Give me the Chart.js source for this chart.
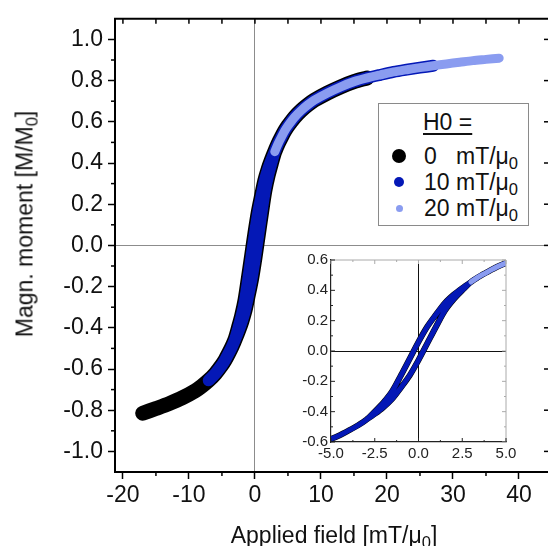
<!DOCTYPE html>
<html>
<head>
<meta charset="utf-8">
<script src="https://cdn.jsdelivr.net/npm/chart.js@4.4.0/dist/chart.umd.min.js"></script>
<style>
html,body{margin:0;padding:0;background:#fff;overflow:hidden;width:548px;height:546px;}
#wrap{position:relative;width:548px;height:546px;overflow:hidden;font-family:"Liberation Sans",Arial,sans-serif;color:#111;}
#main{position:absolute;left:0;top:0;}
#inset{position:absolute;left:280px;top:245px;}
.ttl{position:absolute;white-space:nowrap;font-size:23px;line-height:1;}
sub{font-size:0.72em;vertical-align:-0.32em;line-height:0;}
#legendBox{position:absolute;left:378px;top:103px;width:151px;height:123px;border:1.5px solid #8a8a8a;box-sizing:border-box;background:#fff;}
.lg{position:absolute;white-space:nowrap;font-size:23px;line-height:1;}
.mk{position:absolute;border-radius:50%;}
</style>
</head>
<body>
<div id="wrap">
  <canvas id="main" width="560" height="546"></canvas>
  <canvas id="inset" width="245" height="230"></canvas>
  <div class="ttl" id="xTitle" style="left:334px;top:535px;transform:translate(-50%,-50%);">Applied field [mT/μ<sub>0</sub>]</div>
  <div class="ttl" id="yTitle" style="left:25px;top:224px;transform:translate(-50%,-50%) rotate(-90deg);">Magn. moment [M/M<sub>0</sub>]</div>
  <div id="legendBox"></div>
</div>
<script>
// ---- data ----
const fieldValues   = [-17,-15,-13,-11,-9,-8,-7,-6,-5,-4.5,-4,-3.5,-3,-2.5,-2,-1.5,-1,-0.5,0,0.5,1,1.5,2,2.5,3,3.5,4,4.5,5,6,7,8,9,11,13,15,17,19,21,23,25,27,29,31,33,35,37];
const momentRising  = [-0.815,-0.792,-0.768,-0.74,-0.705,-0.682,-0.655,-0.622,-0.58,-0.555,-0.525,-0.493,-0.455,-0.415,-0.37,-0.315,-0.24,-0.16,-0.06,0.05,0.16,0.265,0.34,0.40,0.455,0.493,0.525,0.555,0.58,0.622,0.655,0.682,0.705,0.74,0.77,0.795,0.813,0.828,0.842,0.853,0.863,0.872,0.881,0.889,0.897,0.903,0.909];
const momentFalling = [-0.815,-0.792,-0.768,-0.74,-0.705,-0.682,-0.655,-0.622,-0.58,-0.555,-0.525,-0.493,-0.455,-0.40,-0.34,-0.265,-0.16,-0.05,0.06,0.16,0.24,0.315,0.37,0.415,0.455,0.493,0.525,0.555,0.58,0.622,0.655,0.682,0.705,0.74,0.77,0.795,0.813,0.828,0.842,0.853,0.863,0.872,0.881,0.889,0.897,0.903,0.909];

const seriesH0     = ['0', '10', '20'];
const sweepStart   = [-17, -7, 3];
const sweepEnd     = [17, 27, 37];
const seriesColors = ['#000000', '#0418b6', '#8a9cf0'];

const mainXTicks = [-20,-10,0,10,20,30,40];
const mainXMinor = [-15,-5,5,15,25,35];
const mainYTicks = [-1.0,-0.8,-0.6,-0.4,-0.2,0,0.2,0.4,0.6,0.8,1.0];
const mainYMinor = [-0.9,-0.7,-0.5,-0.3,-0.1,0.1,0.3,0.5,0.7,0.9];
const insetXTicks = [-5,-2.5,0,2.5,5];
const insetXMinor = [-3.75,-1.25,1.25,3.75];
const insetYTicks = [-0.6,-0.4,-0.2,0,0.2,0.4,0.6];
const insetYMinor = [-0.5,-0.3,-0.1,0.1,0.3,0.5];

// ---- styles ----
const FONT = '"Liberation Sans", Arial, sans-serif';
const mainWidths  = [15, 12, 9];
const insetWidths = [6, 5, 5];
const legendRadius = [7, 5, 3.5];

function loopData(i) {
  const pts = [];
  fieldValues.forEach((h, k) => { if (h >= sweepStart[i] && h <= sweepEnd[i]) pts.push({x: h, y: momentRising[k]}); });
  for (let k = fieldValues.length - 1; k >= 0; k--) {
    const h = fieldValues[k];
    if (h >= sweepStart[i] && h <= sweepEnd[i]) pts.push({x: h, y: momentFalling[k]});
  }
  return pts;
}

function makeDatasets(widths) {
  return seriesH0.map((h, i) => ({
    label: h + ' mT/μ0',
    data: loopData(i),
    order: seriesH0.length - i,
    showLine: true,
    borderColor: seriesColors[i],
    backgroundColor: seriesColors[i],
    borderWidth: widths[i],
    pointRadius: 0,
    tension: 0.3,
    borderCapStyle: 'round',
    borderJoinStyle: 'round'
  }));
}

function line(ctx, x1, y1, x2, y2) { ctx.beginPath(); ctx.moveTo(x1, y1); ctx.lineTo(x2, y2); ctx.stroke(); }

const mainFrame = {
  id: 'mainFrame',
  afterDraw(chart) {
    const {ctx, chartArea: a, scales: {x, y}} = chart;
    ctx.save();
    ctx.strokeStyle = '#000';
    ctx.lineWidth = 2;
    line(ctx, a.left - 1, a.top, a.right + 1, a.top);
    line(ctx, a.right, a.top, a.right, a.bottom);
    ctx.lineWidth = 1.5;
    mainXTicks.concat(mainXMinor).forEach(v => { const px = x.getPixelForValue(v); line(ctx, px, a.top, px, a.top + 5); });
    mainXMinor.forEach(v => { const px = x.getPixelForValue(v); line(ctx, px, a.bottom, px, a.bottom + 4); });
    mainYMinor.forEach(v => { const py = y.getPixelForValue(v); line(ctx, a.left - 4, py, a.left, py); line(ctx, a.right - 4, py, a.right, py); });
    mainYTicks.forEach(v => { const py = y.getPixelForValue(v); line(ctx, a.right - 8, py, a.right, py); });
    ctx.restore();
  }
};

const insetFrame = {
  id: 'insetFrame',
  afterDraw(chart) {
    const {ctx, chartArea: a, scales: {x, y}} = chart;
    ctx.save();
    ctx.strokeStyle = '#aaaaaa';
    ctx.lineWidth = 1;
    line(ctx, a.left, a.top, a.right, a.top);
    line(ctx, a.right, a.top, a.right, a.bottom);
    insetXTicks.forEach(v => { const px = x.getPixelForValue(v); line(ctx, px, a.top, px, a.top + 4); });
    insetXMinor.forEach(v => { const px = x.getPixelForValue(v); line(ctx, px, a.top, px, a.top + 2); });
    insetYTicks.forEach(v => { const py = y.getPixelForValue(v); line(ctx, a.right - 4, py, a.right, py); });
    insetYMinor.forEach(v => { const py = y.getPixelForValue(v); line(ctx, a.right - 2, py, a.right, py); });
    ctx.strokeStyle = '#222';
    insetXTicks.forEach(v => { const px = x.getPixelForValue(v); line(ctx, px, a.bottom, px, a.bottom - 4); });
    insetXMinor.forEach(v => { const px = x.getPixelForValue(v); line(ctx, px, a.bottom, px, a.bottom - 2); });
    insetYTicks.forEach(v => { const py = y.getPixelForValue(v); line(ctx, a.left, py, a.left + 4, py); });
    insetYMinor.forEach(v => { const py = y.getPixelForValue(v); line(ctx, a.left, py, a.left + 2, py); });
    ctx.restore();
  }
};

new Chart(document.getElementById('main'), {
  type: 'scatter',
  data: { datasets: makeDatasets(mainWidths) },
  options: {
    responsive: false, animation: false, devicePixelRatio: 1,
    layout: { padding: { top: 13, right: 8, left: 0, bottom: 0 } },
    plugins: { legend: { display: false }, tooltip: { enabled: false } },
    scales: {
      x: {
        type: 'linear', min: -21.2, max: 45,
        afterBuildTicks: s => { s.ticks = mainXTicks.map(v => ({value: v})); },
        afterFit: s => { s.height = 74; },
        ticks: { font: { family: FONT, size: 23 }, color: '#111', padding: 3, maxRotation: 0, autoSkip: false, callback: v => String(v) },
        grid: { color: c => (c.tick && c.tick.value === 0) ? '#8c8c8c' : 'rgba(0,0,0,0)', lineWidth: 1, tickColor: '#000', tickLength: 7, tickWidth: 1.5 },
        border: { color: '#000', width: 2 }
      },
      y: {
        type: 'linear', min: -1.1, max: 1.1,
        afterBuildTicks: s => { s.ticks = mainYTicks.map(v => ({value: v})); },
        afterFit: s => { s.width = 115; },
        ticks: { font: { family: FONT, size: 23 }, color: '#111', padding: 5, autoSkip: false, callback: v => v.toFixed(1) },
        grid: { color: c => (c.tick && c.tick.value === 0) ? '#8c8c8c' : 'rgba(0,0,0,0)', lineWidth: 1, tickColor: '#000', tickLength: 7, tickWidth: 1.5 },
        border: { color: '#000', width: 2 }
      }
    }
  },
  plugins: [mainFrame]
});

new Chart(document.getElementById('inset'), {
  type: 'scatter',
  data: { datasets: makeDatasets(insetWidths) },
  options: {
    responsive: false, animation: false, devicePixelRatio: 1,
    layout: { padding: { top: 15, right: 19, left: 0, bottom: 0 } },
    plugins: { legend: { display: false }, tooltip: { enabled: false } },
    scales: {
      x: {
        type: 'linear', min: -5, max: 5,
        afterBuildTicks: s => { s.ticks = insetXTicks.map(v => ({value: v})); },
        afterFit: s => { s.height = 33; },
        ticks: { font: { family: FONT, size: 15 }, color: '#222', padding: 3, maxRotation: 0, autoSkip: false, callback: v => v.toFixed(1) },
        grid: { color: c => (c.tick && c.tick.value === 0) ? '#111' : 'rgba(0,0,0,0)', lineWidth: 1, drawTicks: false },
        border: { color: '#222', width: 1.2 }
      },
      y: {
        type: 'linear', min: -0.6, max: 0.6,
        afterBuildTicks: s => { s.ticks = insetYTicks.map(v => ({value: v})); },
        afterFit: s => { s.width = 51; },
        ticks: { font: { family: FONT, size: 15 }, color: '#222', padding: 3, autoSkip: false, callback: v => v.toFixed(1) },
        grid: { color: c => (c.tick && c.tick.value === 0) ? '#111' : 'rgba(0,0,0,0)', lineWidth: 1, drawTicks: false },
        border: { color: '#222', width: 1.2 }
      }
    }
  },
  plugins: [insetFrame]
});

// ---- legend (HTML, built from the series arrays) ----
(function buildLegend() {
  const wrap = document.getElementById('wrap');
  const t = document.createElement('div');
  t.className = 'lg';
  t.style.left = '423px'; t.style.top = '111px';
  t.style.textDecoration = 'underline';
  t.style.textUnderlineOffset = '3px';
  t.style.textDecorationThickness = '1.5px';
  t.textContent = 'H0 =';
  wrap.appendChild(t);
  const rowCenters = [156, 182, 208];
  seriesH0.forEach((h, i) => {
    const r = legendRadius[i];
    const m = document.createElement('div');
    m.className = 'mk';
    m.style.left = (399 - r) + 'px'; m.style.top = (rowCenters[i] - r) + 'px';
    m.style.width = (2 * r) + 'px'; m.style.height = (2 * r) + 'px';
    m.style.background = seriesColors[i];
    wrap.appendChild(m);
    const d = document.createElement('div');
    d.className = 'lg';
    d.style.left = '424px'; d.style.top = (rowCenters[i] - 11) + 'px';
    d.innerHTML = '<span style="display:inline-block;width:32px">' + h + '</span>mT/μ<sub>0</sub>';
    wrap.appendChild(d);
  });
})();
</script>
</body>
</html>
